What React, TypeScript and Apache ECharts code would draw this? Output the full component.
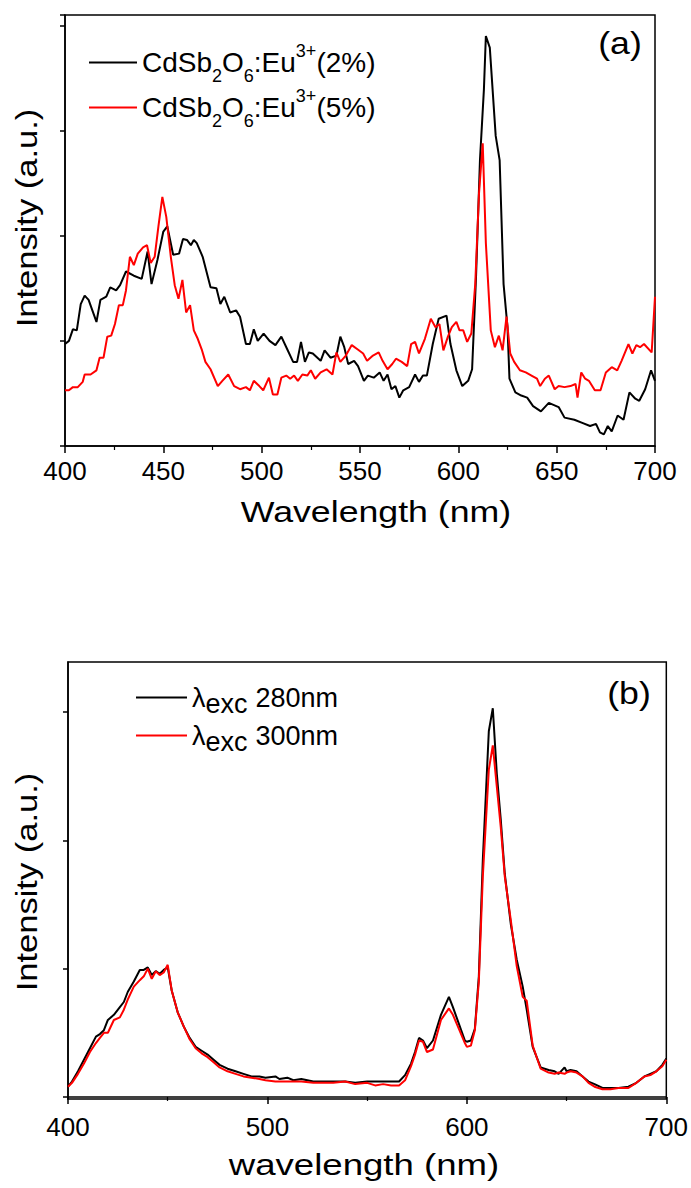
import React, { useEffect, useRef } from 'react';
import * as echarts from 'echarts';

// Panel (a) emission spectra
const wlA2 = [400, 402, 404, 406, 408, 410, 412, 416, 418, 421, 423, 426, 428, 431, 435, 439, 442, 444, 447, 450, 452, 455, 458, 460, 462, 464, 465.5, 467, 470, 474, 477, 479, 481, 484, 487, 489, 492, 494, 496, 498, 501, 504, 507, 510, 513, 516, 518, 520, 522, 524, 526, 530, 532, 535, 538, 540, 542, 544, 547, 549, 552, 554, 557, 560, 562, 564, 566, 568, 570, 572, 575, 578, 580, 582, 584, 587, 590, 594, 596, 599, 602, 605, 607, 609, 611, 613, 614, 616, 619, 621, 623, 625, 626, 629, 632, 635, 638, 642, 646, 651, 654, 659, 663, 667, 670, 672, 674, 676, 678, 681, 684, 687, 690, 692, 695, 698, 700];
const intA2 = [0.97, 1.0, 1.11, 1.1, 1.35, 1.43, 1.39, 1.18, 1.39, 1.42, 1.51, 1.48, 1.53, 1.66, 1.62, 1.59, 1.85, 1.54, 1.77, 2.04, 2.09, 1.82, 1.83, 1.97, 1.96, 1.91, 1.96, 1.93, 1.8, 1.51, 1.5, 1.35, 1.42, 1.27, 1.29, 1.23, 0.97, 0.97, 1.11, 1.0, 1.07, 1.0, 0.96, 1.04, 0.92, 0.8, 0.8, 0.99, 0.8, 0.89, 0.88, 0.81, 0.91, 0.84, 0.86, 1.04, 0.94, 0.78, 0.81, 0.76, 0.62, 0.67, 0.65, 0.7, 0.62, 0.68, 0.54, 0.57, 0.46, 0.53, 0.56, 0.68, 0.61, 0.67, 0.67, 0.97, 1.21, 1.24, 0.97, 0.72, 0.57, 0.62, 0.73, 1.61, 2.72, 3.39, 3.9, 3.79, 2.95, 2.72, 1.54, 1.13, 0.64, 0.51, 0.48, 0.46, 0.38, 0.33, 0.41, 0.37, 0.27, 0.25, 0.22, 0.19, 0.21, 0.13, 0.11, 0.19, 0.14, 0.29, 0.25, 0.51, 0.45, 0.43, 0.54, 0.72, 0.62];

const wlA5 = [400, 402, 404, 406.5, 409, 410, 413, 416, 417.6, 419.6, 421.5, 423.5, 425.4, 427.4, 429.4, 431, 433, 435, 437, 439.7, 441.7, 443.6, 445.6, 447.5, 449.5, 451.5, 453.8, 455.8, 457.7, 459.7, 461.6, 463.6, 465.5, 467.5, 469.5, 471.4, 474, 477.7, 480, 483, 486, 489, 492, 494, 496, 498.8, 500.8, 503.7, 505.7, 508, 510, 512.5, 514.5, 516.5, 518.4, 520.7, 523.2, 525, 527.2, 530, 533, 536, 538, 540, 542.8, 545.8, 548.7, 551.6, 553.6, 556.6, 559.5, 561.5, 564, 566.4, 568.3, 571.2, 574, 576, 578, 580, 583, 586, 588.4, 590.4, 592.4, 594.7, 596.7, 599, 600.6, 602.5, 604.5, 606.6, 608.6, 610.5, 612.4, 614, 616.5, 618.6, 620.6, 622.5, 624.5, 626.4, 628.4, 631.3, 634.3, 637.2, 640, 641.6, 644, 646, 649, 651, 654, 657, 659.6, 660.6, 662.5, 664.5, 666.4, 669.4, 672.3, 675, 678, 680.8, 683, 686.5, 688.5, 690.5, 692.4, 694.4, 698.3, 700];
const intA5 = [0.53, 0.53, 0.56, 0.56, 0.61, 0.68, 0.68, 0.72, 0.84, 0.84, 1.04, 1.05, 1.16, 1.34, 1.34, 1.48, 1.8, 1.72, 1.83, 1.89, 1.91, 1.74, 1.8, 2.09, 2.37, 2.18, 1.8, 1.53, 1.4, 1.58, 1.27, 1.34, 1.1, 1.02, 0.92, 0.8, 0.73, 0.57, 0.62, 0.68, 0.57, 0.54, 0.56, 0.53, 0.62, 0.57, 0.53, 0.65, 0.49, 0.49, 0.65, 0.67, 0.64, 0.67, 0.62, 0.68, 0.67, 0.72, 0.64, 0.7, 0.73, 0.68, 0.89, 0.8, 0.86, 0.96, 0.92, 0.88, 0.81, 0.86, 0.89, 0.81, 0.73, 0.78, 0.83, 0.8, 0.76, 0.97, 0.99, 0.88, 1.02, 1.21, 1.13, 1.16, 0.91, 1.04, 1.13, 1.18, 1.1, 1.1, 0.99, 1.07, 1.54, 2.4, 2.88, 1.93, 1.1, 0.94, 1.05, 0.91, 1.23, 0.88, 0.8, 0.72, 0.7, 0.67, 0.64, 0.57, 0.64, 0.67, 0.54, 0.57, 0.56, 0.57, 0.59, 0.46, 0.7, 0.64, 0.62, 0.53, 0.53, 0.7, 0.75, 0.72, 0.81, 0.97, 0.88, 0.96, 0.94, 0.97, 0.89, 1.42];

// Panel (b) emission spectra under two excitations
const wlB = [400, 402, 405, 408, 411, 414, 416, 418, 420, 423, 426, 428, 430, 433, 436, 438, 440, 442, 444, 446, 448, 450, 452, 455, 458, 461, 464, 467, 470, 473, 476, 480, 484, 488, 492, 496, 499, 504, 506, 510, 513, 517, 523, 529, 533, 539, 544, 550, 554, 558, 562, 566, 569, 572, 574, 576, 578, 580, 583, 587, 591, 593, 596, 599, 600, 602, 604, 606, 608, 611, 613, 615, 617, 619, 622, 625, 628, 630, 633, 637, 641, 644, 646, 649, 650, 652, 655, 658, 661, 664, 668, 672, 676, 681, 685, 689, 692, 695, 698, 700];
const intB280 = [0.08, 0.12, 0.2, 0.29, 0.38, 0.47, 0.49, 0.52, 0.6, 0.64, 0.7, 0.74, 0.82, 0.9, 0.99, 0.99, 1.01, 0.95, 0.98, 0.96, 0.99, 1.01, 0.83, 0.66, 0.55, 0.46, 0.39, 0.36, 0.33, 0.29, 0.25, 0.22, 0.2, 0.18, 0.16, 0.16, 0.15, 0.16, 0.14, 0.15, 0.13, 0.14, 0.12, 0.12, 0.12, 0.12, 0.11, 0.12, 0.12, 0.12, 0.12, 0.12, 0.17, 0.26, 0.35, 0.46, 0.44, 0.38, 0.44, 0.64, 0.78, 0.7, 0.57, 0.44, 0.43, 0.44, 0.53, 0.94, 1.85, 2.85, 3.03, 2.52, 2.16, 1.74, 1.35, 1.07, 0.86, 0.68, 0.39, 0.23, 0.21, 0.2, 0.18, 0.23, 0.2, 0.21, 0.2, 0.16, 0.12, 0.1, 0.07, 0.07, 0.07, 0.08, 0.11, 0.16, 0.18, 0.2, 0.25, 0.3];
const intB300 = [0.08, 0.11, 0.18, 0.26, 0.35, 0.42, 0.46, 0.5, 0.5, 0.6, 0.62, 0.68, 0.76, 0.86, 0.91, 0.94, 1.0, 0.92, 0.98, 0.95, 0.97, 1.03, 0.83, 0.66, 0.55, 0.45, 0.38, 0.34, 0.31, 0.27, 0.23, 0.2, 0.18, 0.16, 0.15, 0.14, 0.13, 0.12, 0.12, 0.12, 0.12, 0.12, 0.11, 0.11, 0.11, 0.12, 0.1, 0.11, 0.09, 0.1, 0.09, 0.09, 0.13, 0.24, 0.33, 0.44, 0.43, 0.35, 0.37, 0.6, 0.69, 0.64, 0.53, 0.42, 0.39, 0.4, 0.52, 0.9, 1.72, 2.55, 2.74, 2.42, 2.1, 1.72, 1.38, 1.02, 0.78, 0.75, 0.4, 0.22, 0.19, 0.18, 0.19, 0.18, 0.19, 0.2, 0.19, 0.16, 0.11, 0.08, 0.06, 0.06, 0.07, 0.07, 0.11, 0.16, 0.17, 0.2, 0.24, 0.29];

const xTicksA = [400, 450, 500, 550, 600, 650, 700];
const xTicksB = [400, 500, 600, 700];

const nameA2 = 'CdSb2O6:Eu3+(2%)';
const nameA5 = 'CdSb2O6:Eu3+(5%)';
const nameB280 = 'λexc 280nm';
const nameB300 = 'λexc 300nm';

const FONT = '"Liberation Sans", Arial, Helvetica, sans-serif';

const pairs = (xs: number[], ys: number[]) => xs.map((x, i) => [x, ys[i]]);

export default function App() {
  const ref = useRef<HTMLDivElement>(null);
  useEffect(() => {
    const chart = echarts.init(ref.current!, null, { renderer: 'svg' });
    const axisLine = { show: true, lineStyle: { color: '#000', width: 1.5 } };
    const xAxisCommon = (interval: number, gridIndex: number, margin: number) => ({
      type: 'value',
      gridIndex,
      min: xTicksA[0],
      max: xTicksA[xTicksA.length - 1],
      interval,
      axisLine,
      axisTick: { show: true, inside: false, length: 7, lineStyle: { color: '#000', width: 1.5 } },
      minorTick: { show: true, splitNumber: 2, length: 4, lineStyle: { color: '#000', width: 1.2 } },
      splitLine: { show: false },
      minorSplitLine: { show: false },
      axisLabel: { show: true, margin, fontSize: 26, fontFamily: FONT, color: '#000' },
    });
    const option: any = {
      animation: false,
      backgroundColor: '#fff',
      grid: [
        { left: 65, top: 15, width: 590, height: 431, show: true, borderColor: '#000', borderWidth: 1.5, containLabel: false },
        { left: 68, top: 662, width: 599, height: 437, show: true, borderColor: '#000', borderWidth: 1.5, containLabel: false },
      ],
      xAxis: [xAxisCommon(xTicksA[1] - xTicksA[0], 0, 12), xAxisCommon(xTicksB[1] - xTicksB[0], 1, 15)],
      yAxis: [
        {
          type: 'value', gridIndex: 0, min: 0, max: 4.1, interval: 1,
          axisLine, axisTick: { show: true, inside: false, length: 5, lineStyle: { color: '#000', width: 1.5 } },
          axisLabel: { show: false }, splitLine: { show: false },
        },
        {
          type: 'value', gridIndex: 1, min: -0.016, max: 3.39,
          axisLine,
          axisTick: { show: true, inside: false, length: 5, customValues: [0, 1, 2, 3], lineStyle: { color: '#000', width: 1.5 } },
          axisLabel: { show: false, customValues: [0, 1, 2, 3] }, splitLine: { show: false },
        },
      ],
      legend: [
        {
          orient: 'vertical', left: 89, top: 42, padding: 0, itemGap: 2,
          itemWidth: 48, itemHeight: 2, icon: 'rect', selectedMode: false,
          data: [nameA2, nameA5],
          formatter: (name: string) => {
            const pct = name.indexOf('2%') >= 0 ? '(2%)' : '(5%)';
            return '{n|CdSb}{sb|2}{n|O}{sb|6}{n|:Eu}{sp|3+}{n|' + pct + '}';
          },
          textStyle: {
            fontFamily: FONT, fontSize: 28, color: '#000',
            rich: {
              n: { fontFamily: FONT, fontSize: 28, lineHeight: 36, color: '#000' },
              sb: { fontFamily: FONT, fontSize: 18, height: 9, lineHeight: 9, verticalAlign: 'bottom', color: '#000' },
              sp: { fontFamily: FONT, fontSize: 18, height: 13, lineHeight: 13, verticalAlign: 'top', color: '#000' },
            },
          },
        },
        {
          orient: 'vertical', left: 136, top: 684, padding: 0, itemGap: 5,
          itemWidth: 51, itemHeight: 2, icon: 'rect', selectedMode: false,
          data: [nameB280, nameB300],
          formatter: (name: string) => {
            const v = name.indexOf('280') >= 0 ? '280nm' : '300nm';
            return '{n|λ}{e|exc}{m|' + v + '}';
          },
          textStyle: {
            fontFamily: FONT, fontSize: 27, color: '#000',
            rich: {
              n: { fontFamily: FONT, fontSize: 27, lineHeight: 34, color: '#000' },
              e: { fontFamily: FONT, fontSize: 27, height: 22, lineHeight: 22, verticalAlign: 'bottom', color: '#000' },
              m: { fontFamily: FONT, fontSize: 27, lineHeight: 34, padding: [0, 0, 0, 8], color: '#000' },
            },
          },
        },
      ],
      series: [
        { name: nameA2, type: 'line', xAxisIndex: 0, yAxisIndex: 0, data: pairs(wlA2, intA2), showSymbol: false, color: '#000', lineStyle: { color: '#000', width: 2 } },
        { name: nameA5, type: 'line', xAxisIndex: 0, yAxisIndex: 0, data: pairs(wlA5, intA5), showSymbol: false, color: '#ff0000', lineStyle: { color: '#ff0000', width: 2 } },
        { name: nameB280, type: 'line', xAxisIndex: 1, yAxisIndex: 1, data: pairs(wlB, intB280), showSymbol: false, color: '#000', lineStyle: { color: '#000', width: 2 } },
        { name: nameB300, type: 'line', xAxisIndex: 1, yAxisIndex: 1, data: pairs(wlB, intB300), showSymbol: false, color: '#ff0000', lineStyle: { color: '#ff0000', width: 2 } },
      ],
      graphic: [
        { type: 'text', x: 376, y: 512, scaleX: 1.19, style: { text: 'Wavelength (nm)', fontSize: 30, fontFamily: FONT, fill: '#000', align: 'center', verticalAlign: 'middle', textAlign: 'center', textVerticalAlign: 'middle' } },
        { type: 'text', x: 364, y: 1165, scaleX: 1.22, style: { text: 'wavelength (nm)', fontSize: 30, fontFamily: FONT, fill: '#000', align: 'center', verticalAlign: 'middle', textAlign: 'center', textVerticalAlign: 'middle' } },
        { type: 'text', x: 27, y: 218, rotation: Math.PI / 2, scaleX: 1.15, style: { text: 'Intensity (a.u.)', fontSize: 30, fontFamily: FONT, fill: '#000', align: 'center', verticalAlign: 'middle', textAlign: 'center', textVerticalAlign: 'middle' } },
        { type: 'text', x: 27, y: 882, rotation: Math.PI / 2, scaleX: 1.15, style: { text: 'Intensity (a.u.)', fontSize: 30, fontFamily: FONT, fill: '#000', align: 'center', verticalAlign: 'middle', textAlign: 'center', textVerticalAlign: 'middle' } },
        { type: 'text', x: 620, y: 43, scaleX: 1.15, style: { text: '(a)', fontSize: 31, fontFamily: FONT, fill: '#000', align: 'center', verticalAlign: 'middle', textAlign: 'center', textVerticalAlign: 'middle' } },
        { type: 'text', x: 629, y: 693, scaleX: 1.15, style: { text: '(b)', fontSize: 31, fontFamily: FONT, fill: '#000', align: 'center', verticalAlign: 'middle', textAlign: 'center', textVerticalAlign: 'middle' } },
      ],
    };
    chart.setOption(option);
    return () => chart.dispose();
  }, []);
  return (
    <div
      ref={ref}
      style={{ position: 'absolute', left: 0, top: 0, width: 691, height: 1188, background: '#fff' }}
    />
  );
}
